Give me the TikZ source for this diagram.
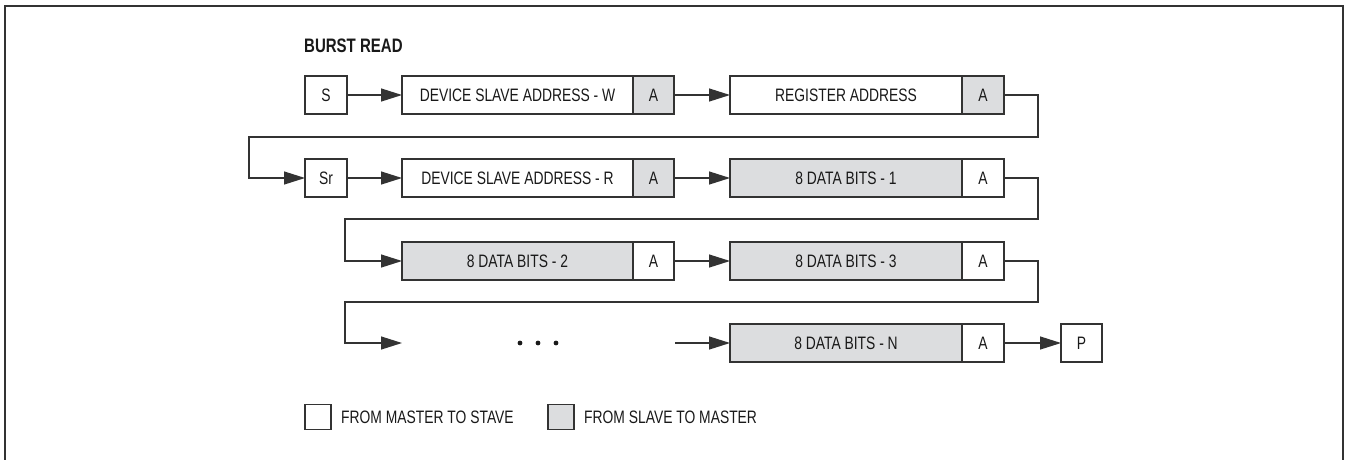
\documentclass[tikz,border=0pt]{standalone}
\usepackage{fontspec}
\setmainfont{Liberation Sans}[FakeStretch=0.77]
\usetikzlibrary{arrows.meta}
\definecolor{linegray}{HTML}{333333}
\definecolor{slavegray}{HTML}{DCDDDF}

\begin{document}
\begin{tikzpicture}[x=1pt, y=-1pt,
    every node/.style={font=\fontsize{18}{20}\selectfont, text=black!90},
    cell/.style={draw=linegray, line width=1.3pt, minimum height=38pt, inner sep=0pt, outer sep=0pt},
    master/.style={cell, fill=white},
    slave/.style={cell, fill=slavegray},
    flow/.style={draw=linegray, line width=1.3pt, -{Triangle[length=21pt, width=13pt]}}]
    \useasboundingbox (0, 0) rectangle (1346, 459);
    \draw[linegray, line width=1.8pt](5, 470) -- (5, 6) -- (1343, 6) -- (1343, 470);

    \node[anchor=west, inner sep=0pt, font=\fontsize{19.5}{22}\selectfont\bfseries] (title) at(304, 46){BURST READ};

    \node[master, minimum width=42pt] (s) at(326, 95){S};
    \node[master, minimum width=231pt] (dsaw) at(517.5, 95){DEVICE SLAVE ADDRESS - W};
    \node[slave, minimum width=41pt] (aw) at(653.5, 95){A};
    \node[master, minimum width=232pt] (reg) at(846, 95){REGISTER ADDRESS};
    \node[slave, minimum width=42pt] (areg) at(983, 95){A};
      \draw[flow](s) -- (dsaw);
      \draw[flow](aw) -- (reg);

    \node[master, minimum width=42pt] (sr) at(326, 178){Sr};
    \node[master, minimum width=231pt] (dsar) at(517.5, 178){DEVICE SLAVE ADDRESS - R};
    \node[slave, minimum width=41pt] (ar) at(653.5, 178){A};
    \node[slave, minimum width=232pt] (db1) at(846, 178){8 DATA BITS - 1};
    \node[master, minimum width=42pt] (a1) at(983, 178){A};
      \coordinate (r1) at(1038, 137);
      \coordinate (l1) at(249, 137);
      \draw[flow](areg.east) -| (r1) -- (l1) |- (sr.west);
      \draw[flow](sr) -- (dsar);
      \draw[flow](ar) -- (db1);

    \node[slave, minimum width=231pt] (db2) at(517.5, 261){8 DATA BITS - 2};
    \node[master, minimum width=41pt] (a2) at(653.5, 261){A};
    \node[slave, minimum width=232pt] (db3) at(846, 261){8 DATA BITS - 3};
    \node[master, minimum width=42pt] (a3) at(983, 261){A};
      \coordinate (r2) at(1038, 219);
      \coordinate (l2) at(345, 219);
      \draw[flow](a1.east) -| (r2) -- (l2) |- (db2.west);
      \draw[flow](a2) -- (db3);

    \coordinate (gapin) at(402, 343);
    \foreach \x in {520, 538, 556}
      \fill[black!90](\x, 343) circle (2.4pt);
    \coordinate (gapout) at(675, 343);
    \node[slave, minimum width=232pt] (dbn) at(846, 343){8 DATA BITS - N};
    \node[master, minimum width=42pt] (an) at(983, 343){A};
    \node[master, minimum width=41pt] (p) at(1081.5, 343){P};
      \coordinate (r3) at(1038, 302);
      \coordinate (l3) at(345, 302);
      \draw[flow](a3.east) -| (r3) -- (l3) |- (gapin);
      \draw[flow](gapout) -- (dbn);
      \draw[flow](an) -- (p);

    \node[master, minimum width=26pt, minimum height=25pt] (keym) at(318, 417){};
    \node[anchor=west, inner sep=0pt] (keymtext) at(341, 417){FROM MASTER TO STAVE};
    \node[slave, minimum width=26pt, minimum height=25pt] (keys) at(561, 417){};
    \node[anchor=west, inner sep=0pt] (keystext) at(584, 417){FROM SLAVE TO MASTER};
  \end{tikzpicture}
\end{document}
